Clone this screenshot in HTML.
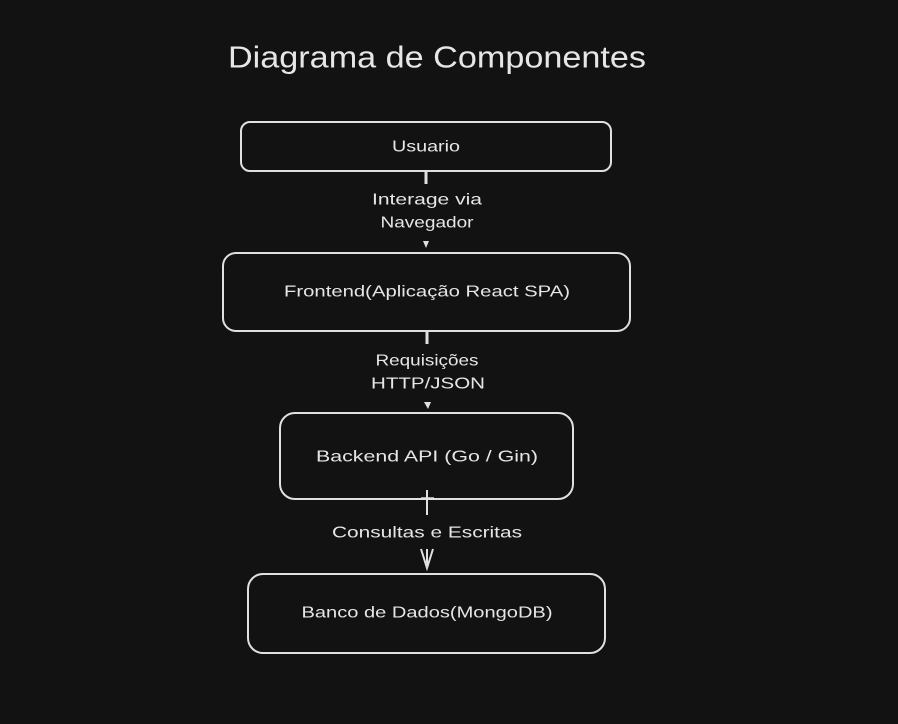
<!DOCTYPE html>
<html><head><meta charset="utf-8"><style>
html,body{margin:0;padding:0;background:#121212;}
svg{display:block}
text{font-family:"Liberation Sans",sans-serif;fill:#e6e6e6;text-anchor:middle;dominant-baseline:central}
</style></head><body>
<svg width="898" height="724" viewBox="0 0 898 724">
<rect width="898" height="724" fill="#121212"/>
<text x="437" y="57" font-size="31" textLength="418" lengthAdjust="spacingAndGlyphs">Diagrama de Componentes</text>
<g fill="none" stroke="#e0e0e0" stroke-width="2">
<rect x="241" y="122" width="370" height="49" rx="9"/>
<rect x="223" y="253" width="407" height="78" rx="13"/>
<rect x="280" y="413" width="293" height="86" rx="15"/>
<rect x="248" y="574" width="357" height="79" rx="15"/>
<line x1="426" y1="171" x2="426" y2="184" stroke-width="3"/>
<line x1="427" y1="331" x2="427" y2="344" stroke-width="3"/>
<line x1="427" y1="490" x2="427" y2="515" stroke-width="2"/>
<line x1="421" y1="498" x2="434" y2="498" stroke-width="1.5"/>
<path d="M421 549 L427 568 L433 549 M427 549 L427 568" stroke-width="2"/>
</g>
<path d="M423 241 L429 241 L426 248 Z" fill="#e0e0e0"/>
<path d="M424 402 L431 402 L428 409 Z" fill="#e0e0e0"/>
<text x="426" y="147" font-size="16" textLength="68" lengthAdjust="spacingAndGlyphs">Usuario</text>
<text x="427" y="200" font-size="16" textLength="110" lengthAdjust="spacingAndGlyphs">Interage via</text>
<text x="427" y="223" font-size="16" textLength="93" lengthAdjust="spacingAndGlyphs">Navegador</text>
<text x="427" y="292" font-size="16" textLength="286" lengthAdjust="spacingAndGlyphs">Frontend(Aplicação React SPA)</text>
<text x="427" y="361" font-size="16" textLength="103" lengthAdjust="spacingAndGlyphs">Requisições</text>
<text x="428" y="384" font-size="16" textLength="114" lengthAdjust="spacingAndGlyphs">HTTP/JSON</text>
<text x="427" y="457" font-size="16" textLength="222" lengthAdjust="spacingAndGlyphs">Backend API (Go / Gin)</text>
<text x="427" y="533" font-size="16" textLength="190" lengthAdjust="spacingAndGlyphs">Consultas e Escritas</text>
<text x="427" y="613" font-size="16" textLength="251" lengthAdjust="spacingAndGlyphs">Banco de Dados(MongoDB)</text>
</svg>
</body></html>
